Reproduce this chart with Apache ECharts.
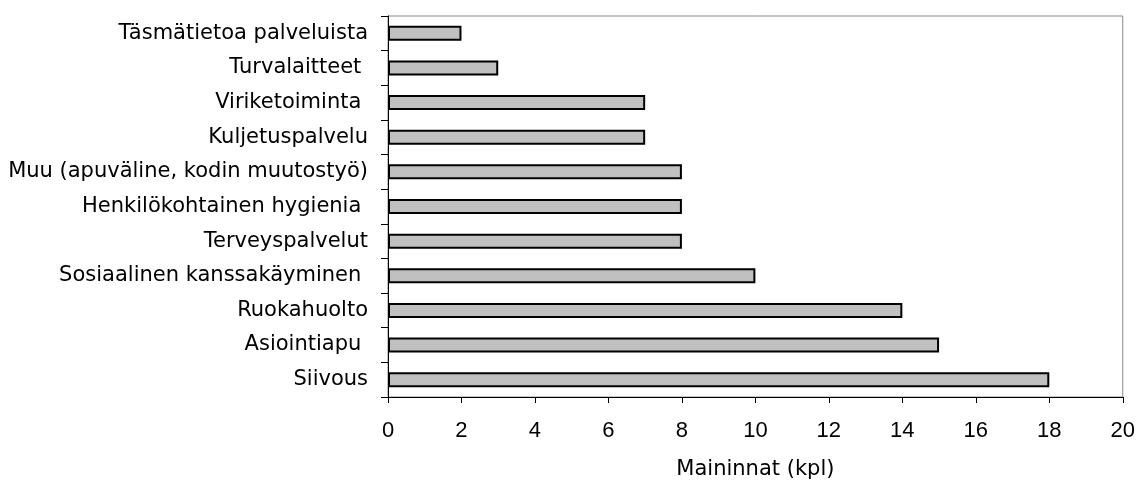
<!DOCTYPE html>
<html><head><meta charset="utf-8">
<script src="https://cdn.jsdelivr.net/npm/echarts@6/dist/echarts.min.js"></script>
<style>html,body{margin:0;padding:0;background:#fff}#c{width:1138px;height:486px}</style>
</head><body><div id="c"></div>
<script>
const categories = ["Täsmätietoa palveluista","Turvalaitteet ","Viriketoiminta ","Kuljetuspalvelu","Muu (apuväline, kodin muutostyö)","Henkilökohtainen hygienia ","Terveyspalvelut","Sosiaalinen kanssakäyminen ","Ruokahuolto","Asiointiapu ","Siivous"];
const values = [2,3,7,7,8,8,8,10,14,15,18];
const xTicks = {min:0,max:20,interval:2};
const xName = "Maininnat (kpl)";

const chart = echarts.init(document.getElementById('c'), null, {renderer:'canvas'});
chart.setOption({
  animation:false,
  grid:{left:388,right:15,top:16,bottom:89,show:true,borderColor:'#888',borderWidth:1},
  xAxis:{type:'value',min:xTicks.min,max:xTicks.max,interval:xTicks.interval,
    name:xName,nameLocation:'middle',nameGap:62,
    nameTextStyle:{fontFamily:'DejaVu Sans',fontSize:21,color:'#000'},
    axisLine:{show:true,lineStyle:{color:'#000',width:1}},
    axisTick:{show:true,length:6,lineStyle:{color:'#000'}},
    axisLabel:{fontFamily:'Liberation Sans',fontSize:22,color:'#000',margin:23},
    splitLine:{show:false}},
  yAxis:{type:'category',data:categories.slice().reverse(),
    axisLine:{show:true,lineStyle:{color:'#000',width:1}},
    axisTick:{show:true,length:7,lineStyle:{color:'#000'}},
    axisLabel:{fontFamily:'DejaVu Sans',fontSize:21,color:'#000',margin:20}},
  series:[{type:'bar',data:values.slice().reverse(),barWidth:15,
    itemStyle:{color:'#c0c0c0',borderColor:'#000',borderWidth:2}}]
});
</script></body></html>
